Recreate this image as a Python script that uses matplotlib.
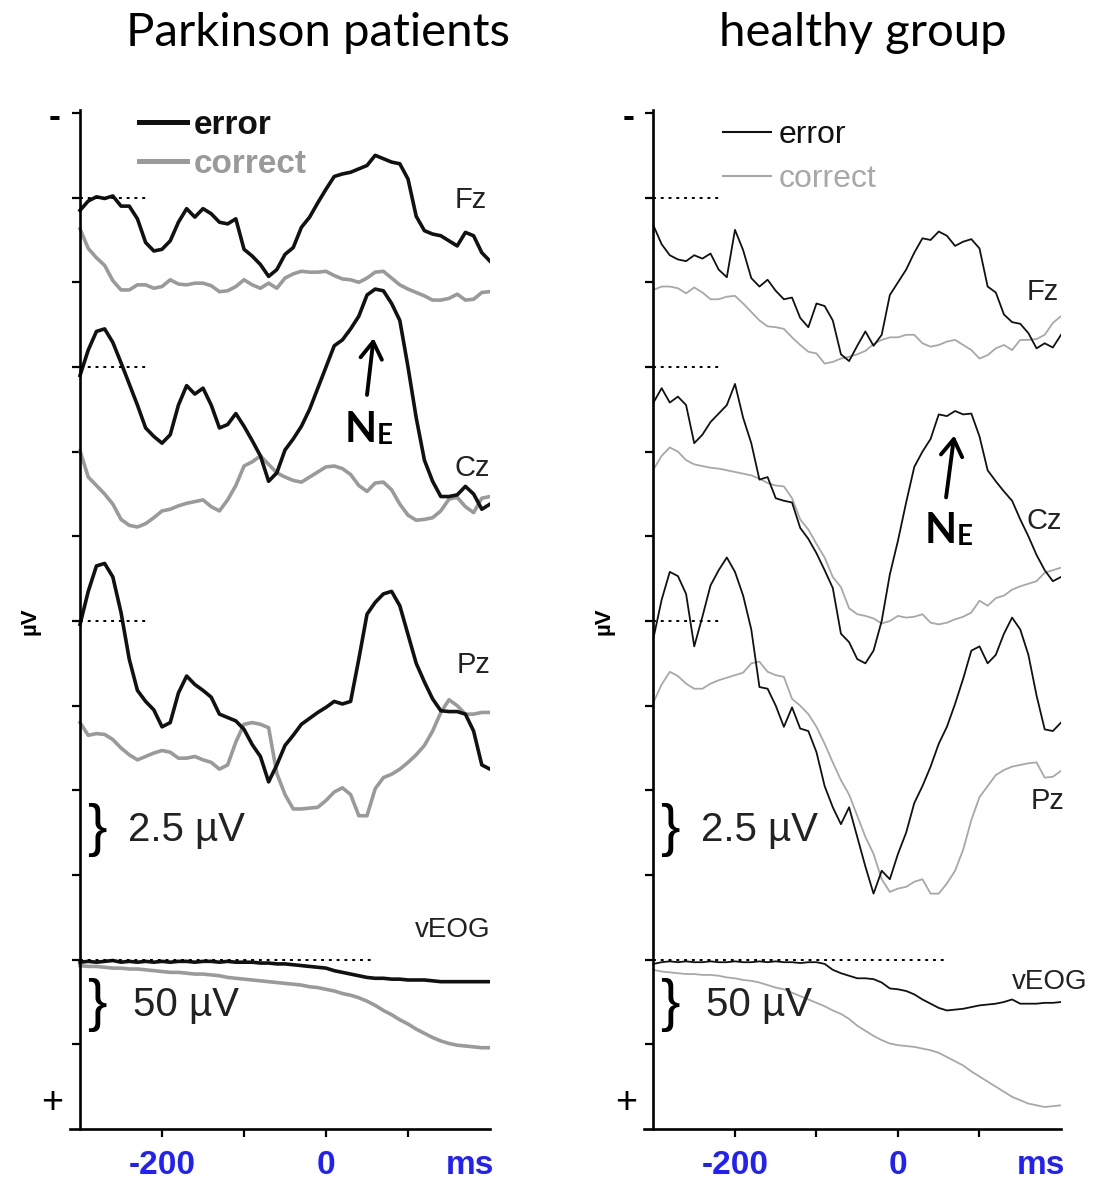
import numpy as np
import matplotlib
matplotlib.use("Agg")
import matplotlib.pyplot as plt
from matplotlib.lines import Line2D
from matplotlib.transforms import blended_transform_factory

# time axis (ms, response-locked)
t = np.arange(-300, 201, 10)

# amplitudes relative to each channel baseline, in scale divisions (negative = up)
pd_fz_err = [0.15, 0.04, -0.01, 0.01, -0.02, 0.10, 0.10, 0.25, 0.53, 0.63,
             0.61, 0.51, 0.29, 0.13, 0.23, 0.13, 0.19, 0.29, 0.31, 0.25,
             0.61, 0.69, 0.79, 0.93, 0.85, 0.67, 0.59, 0.35, 0.23, 0.06,
             -0.10, -0.25, -0.28, -0.30, -0.34, -0.38, -0.50, -0.46, -0.42, -0.40,
             -0.22, 0.22, 0.39, 0.43, 0.45, 0.51, 0.57, 0.41, 0.45, 0.65, 0.75]
pd_fz_cor = [0.37, 0.60, 0.71, 0.80, 0.98, 1.09, 1.09, 1.03, 1.03, 1.07,
             1.05, 0.97, 1.02, 1.03, 1.01, 1.01, 1.04, 1.11, 1.10, 1.05,
             0.97, 1.03, 1.07, 1.01, 1.07, 0.95, 0.90, 0.87, 0.88, 0.88,
             0.87, 0.92, 0.96, 0.97, 1.00, 0.95, 0.88, 0.87, 0.95, 1.03,
             1.08, 1.12, 1.16, 1.21, 1.21, 1.19, 1.14, 1.21, 1.20, 1.12, 1.11]
pd_cz_err = [0.10, -0.20, -0.42, -0.45, -0.29, -0.05, 0.20, 0.45, 0.72, 0.82,
             0.90, 0.80, 0.45, 0.22, 0.32, 0.25, 0.45, 0.72, 0.68, 0.55,
             0.70, 0.87, 1.05, 1.35, 1.25, 0.98, 0.85, 0.70, 0.50, 0.25,
             0.00, -0.25, -0.32, -0.45, -0.60, -0.85, -0.92, -0.90, -0.75, -0.55,
             0.00, 0.60, 1.10, 1.35, 1.53, 1.53, 1.51, 1.41, 1.50, 1.68, 1.62]
pd_cz_cor = [0.99, 1.30, 1.40, 1.50, 1.62, 1.80, 1.87, 1.89, 1.85, 1.78,
             1.70, 1.68, 1.64, 1.61, 1.59, 1.57, 1.65, 1.70, 1.57, 1.40,
             1.17, 1.12, 1.05, 1.15, 1.25, 1.30, 1.34, 1.36, 1.30, 1.24,
             1.18, 1.17, 1.20, 1.27, 1.40, 1.47, 1.37, 1.36, 1.45, 1.62,
             1.75, 1.81, 1.80, 1.78, 1.70, 1.56, 1.54, 1.65, 1.72, 1.55, 1.53]
pd_pz_err = [0.04, -0.35, -0.65, -0.68, -0.52, -0.10, 0.45, 0.82, 0.95, 1.05,
             1.25, 1.20, 0.85, 0.65, 0.75, 0.82, 0.90, 1.10, 1.14, 1.18,
             1.28, 1.46, 1.60, 1.90, 1.70, 1.47, 1.35, 1.22, 1.15, 1.08,
             1.02, 0.95, 0.98, 0.95, 0.45, -0.08, -0.22, -0.32, -0.35, -0.18,
             0.16, 0.50, 0.72, 0.92, 1.06, 1.07, 1.07, 1.10, 1.30, 1.70, 1.75]
pd_pz_cor = [1.20, 1.35, 1.33, 1.34, 1.40, 1.50, 1.58, 1.64, 1.60, 1.56,
             1.53, 1.55, 1.62, 1.62, 1.60, 1.64, 1.67, 1.75, 1.70, 1.43,
             1.22, 1.20, 1.22, 1.26, 1.80, 2.05, 2.22, 2.22, 2.21, 2.20,
             2.12, 2.02, 1.97, 2.05, 2.30, 2.30, 1.98, 1.85, 1.81, 1.75,
             1.67, 1.58, 1.47, 1.30, 1.08, 0.93, 1.00, 1.10, 1.10, 1.08, 1.08]
pd_veog_err = [0.03, 0.02, 0.03, 0.02, 0.01, 0.03, 0.02, 0.03, 0.02, 0.03,
               0.02, 0.03, 0.02, 0.02, 0.03, 0.02, 0.02, 0.03, 0.02, 0.03,
               0.03, 0.03, 0.04, 0.04, 0.05, 0.05, 0.06, 0.07, 0.08, 0.09,
               0.10, 0.13, 0.15, 0.17, 0.19, 0.21, 0.22, 0.22, 0.23, 0.23,
               0.24, 0.24, 0.24, 0.25, 0.26, 0.26, 0.26, 0.26, 0.26, 0.26, 0.26]
pd_veog_cor = [0.07, 0.08, 0.08, 0.09, 0.10, 0.10, 0.11, 0.11, 0.12, 0.13,
               0.14, 0.15, 0.15, 0.16, 0.17, 0.17, 0.18, 0.19, 0.21, 0.22,
               0.23, 0.24, 0.25, 0.26, 0.27, 0.28, 0.29, 0.30, 0.32, 0.33,
               0.35, 0.37, 0.40, 0.42, 0.45, 0.49, 0.54, 0.60, 0.65, 0.71,
               0.76, 0.82, 0.87, 0.92, 0.96, 0.99, 1.01, 1.02, 1.03, 1.04, 1.04]

hc_fz_err = [0.33, 0.55, 0.68, 0.73, 0.75, 0.68, 0.72, 0.66, 0.85, 0.94,
             0.38, 0.62, 0.95, 1.05, 0.97, 1.10, 1.20, 1.18, 1.42, 1.53,
             1.25, 1.28, 1.45, 1.85, 1.93, 1.75, 1.58, 1.75, 1.62, 1.15,
             1.00, 0.85, 0.65, 0.48, 0.50, 0.40, 0.45, 0.57, 0.52, 0.49,
             0.60, 1.05, 1.12, 1.38, 1.47, 1.49, 1.60, 1.78, 1.72, 1.77, 1.62]
hc_fz_cor = [1.09, 1.05, 1.05, 1.07, 1.13, 1.06, 1.12, 1.20, 1.20, 1.17,
             1.16, 1.25, 1.35, 1.45, 1.52, 1.53, 1.55, 1.65, 1.74, 1.82,
             1.84, 1.96, 1.94, 1.90, 1.88, 1.85, 1.81, 1.73, 1.68, 1.65,
             1.65, 1.62, 1.62, 1.72, 1.76, 1.74, 1.70, 1.68, 1.74, 1.80,
             1.90, 1.86, 1.78, 1.74, 1.80, 1.68, 1.68, 1.67, 1.62, 1.48, 1.40]
hc_cz_err = [0.42, 0.25, 0.42, 0.35, 0.45, 0.90, 0.80, 0.65, 0.55, 0.45,
             0.20, 0.60, 0.90, 1.33, 1.30, 1.55, 1.58, 1.60, 1.90, 2.03,
             2.20, 2.40, 2.61, 3.15, 3.25, 3.45, 3.50, 3.35, 3.00, 2.45,
             2.05, 1.60, 1.18, 1.00, 0.85, 0.56, 0.58, 0.52, 0.56, 0.55,
             0.82, 1.22, 1.35, 1.47, 1.58, 1.80, 2.00, 2.22, 2.40, 2.53, 2.48]
hc_cz_cor = [1.21, 1.05, 0.95, 1.00, 1.10, 1.15, 1.17, 1.19, 1.20, 1.22,
             1.24, 1.26, 1.28, 1.32, 1.37, 1.40, 1.41, 1.55, 1.80, 1.92,
             2.09, 2.25, 2.48, 2.60, 2.85, 2.92, 2.94, 2.97, 3.03, 3.00,
             2.94, 2.96, 2.95, 2.92, 3.02, 3.04, 3.02, 2.98, 2.95, 2.90,
             2.76, 2.82, 2.73, 2.70, 2.63, 2.59, 2.56, 2.53, 2.43, 2.40, 2.37]
hc_pz_err = [0.20, -0.25, -0.58, -0.53, -0.32, 0.30, -0.05, -0.42, -0.60, -0.75,
             -0.58, -0.30, 0.10, 0.78, 0.80, 1.00, 1.25, 1.02, 1.27, 1.30,
             1.55, 1.95, 2.20, 2.40, 2.20, 2.55, 2.90, 3.22, 2.95, 3.05,
             2.75, 2.50, 2.15, 1.95, 1.72, 1.45, 1.25, 0.98, 0.68, 0.35,
             0.30, 0.50, 0.40, 0.15, -0.04, 0.10, 0.40, 0.88, 1.28, 1.30, 1.20]
hc_pz_cor = [0.96, 0.75, 0.60, 0.65, 0.74, 0.80, 0.80, 0.74, 0.70, 0.67,
             0.64, 0.61, 0.50, 0.48, 0.60, 0.64, 0.66, 0.92, 1.00, 1.10,
             1.25, 1.45, 1.67, 1.88, 2.05, 2.30, 2.55, 2.75, 3.05, 3.20,
             3.16, 3.14, 3.08, 3.05, 3.22, 3.22, 3.10, 2.95, 2.70, 2.35,
             2.08, 1.95, 1.82, 1.76, 1.72, 1.70, 1.68, 1.67, 1.85, 1.84, 1.77]
hc_veog_err = [0.05, 0.03, 0.02, 0.03, 0.02, 0.03, 0.03, 0.02, 0.03, 0.03,
               0.02, 0.03, 0.03, 0.02, 0.03, 0.02, 0.03, 0.03, 0.04, 0.03,
               0.03, 0.05, 0.12, 0.16, 0.19, 0.22, 0.22, 0.23, 0.27, 0.34,
               0.35, 0.37, 0.41, 0.47, 0.52, 0.57, 0.60, 0.59, 0.58, 0.56,
               0.54, 0.53, 0.52, 0.50, 0.47, 0.52, 0.52, 0.52, 0.51, 0.51, 0.50]
hc_veog_cor = [0.12, 0.14, 0.15, 0.16, 0.17, 0.17, 0.18, 0.18, 0.19, 0.21,
               0.22, 0.24, 0.25, 0.27, 0.30, 0.33, 0.35, 0.39, 0.43, 0.47,
               0.51, 0.55, 0.60, 0.64, 0.70, 0.78, 0.84, 0.90, 0.95, 0.99,
               1.01, 1.02, 1.03, 1.05, 1.07, 1.10, 1.15, 1.20, 1.25, 1.32,
               1.38, 1.44, 1.50, 1.56, 1.62, 1.66, 1.70, 1.72, 1.74, 1.73, 1.72]

channels = ["Fz", "Cz", "Pz", "vEOG"]
baselines = [1, 3, 6, 10]
pd_traces = [(pd_fz_err, pd_fz_cor), (pd_cz_err, pd_cz_cor),
             (pd_pz_err, pd_pz_cor), (pd_veog_err, pd_veog_cor)]
hc_traces = [(hc_fz_err, hc_fz_cor), (hc_cz_err, hc_cz_cor),
             (hc_pz_err, hc_pz_cor), (hc_veog_err, hc_veog_cor)]

SANS = "Liberation Sans"
BLUE = "#1f1fff"

fig = plt.figure(figsize=(11.03, 11.89), dpi=100)
H = 1189.0
W = 1103.0
ax_b = 1 - 1129 / H
ax_h = (1129 - 109.6) / H
axl = fig.add_axes([70.2 / W, ax_b, 419.8 / W, ax_h])
axr = fig.add_axes([643.7 / W, ax_b, 417.3 / W, ax_h])


def panel(ax, traces, lw, grey, lab_pos, veog_dot_end):
    for (err, cor), base in zip(traces, baselines):
        ax.plot(t, base + np.array(cor), color=grey, lw=lw, solid_joinstyle="round")
        ax.plot(t, base + np.array(err), color="#111111", lw=lw, solid_joinstyle="round")
    # dotted baselines
    for base in baselines[:3]:
        ax.plot([-300, -218], [base, base], ls=(0, (1.5, 2.5)), color="black", lw=1.4)
    ax.plot([-300, veog_dot_end], [10, 10], ls=(0, (1.5, 2.5)), color="black", lw=1.4)
    for name, (x, y) in zip(channels, lab_pos):
        ax.text(x, y, name, fontsize=21 if name != "vEOG" else 20, family=SANS,
                color="#222222", ha="center", va="center")

    ax.set_xlim(-312, 200)
    ax.set_ylim(12, -0.04)
    for s in ["top", "right"]:
        ax.spines[s].set_visible(False)
    ax.spines["left"].set_position(("data", -300))
    ax.spines["left"].set_linewidth(1.9)
    ax.spines["bottom"].set_linewidth(1.9)
    ax.set_yticks(range(0, 12))
    ax.set_yticklabels([])
    ax.set_xticks([-200, -100, 0, 100])
    ax.set_xticklabels(["-200", "", "0", ""])
    ax.tick_params(axis="both", direction="out", length=6, width=1.6)
    ax.tick_params(axis="x", pad=9, labelsize=24, labelcolor=BLUE)
    for lab in ax.get_xticklabels():
        lab.set_fontweight("bold")
        lab.set_family(SANS)
    ax.annotate("ms", xy=(175, 12), xycoords="data", xytext=(0, -15),
                textcoords="offset points", ha="center", va="top",
                fontsize=24, fontweight="bold", color=BLUE, family=SANS)

    yt = blended_transform_factory(ax.transAxes, ax.transData)
    ax.text(-0.036, 0.05, "-", transform=yt, fontsize=26, fontweight="bold",
            family=SANS, ha="center", va="center")
    ax.text(-0.042, 11.69, "+", transform=yt, fontsize=27, family=SANS,
            ha="center", va="center")
    ax.text(-0.095, 6.0, "µV", transform=yt, rotation=90, fontsize=16,
            fontweight="bold", family=SANS, ha="center", va="center")

    # scale bars
    ax.text(-280, 8.47, "}", fontsize=42, family=SANS, ha="center", va="center")
    ax.text(-242, 8.47, "2.5 µV", fontsize=29, family=SANS, ha="left",
            va="center", color="#222222")
    ax.text(-280, 10.53, "}", fontsize=42, family=SANS, ha="center", va="center")
    ax.text(-235, 10.53, "50 µV", fontsize=29, family=SANS, ha="left",
            va="center", color="#222222")


panel(axl, pd_traces, 2.6, "#9a9a9a",
      [(176, 1.03), (178, 4.19), (180, 6.52), (155, 9.65)], 60)
panel(axr, hc_traces, 1.3, "#a8a8a8",
      [(177, 2.11), (180, 4.82), (183, 8.13), (186, 10.26)], 58)

# N_E annotations
for ax, tail, tip, nx, ny in [(axl, (50, 3.33), (58, 2.66), 23, 3.89),
                              (axr, (59, 4.54), (69, 3.81), 33, 5.08)]:
    ax.annotate("", xy=tip, xytext=tail,
                arrowprops=dict(arrowstyle="->,head_length=0.55,head_width=0.35",
                                lw=2.8, color="black", mutation_scale=22,
                                shrinkA=0, shrinkB=0))
    txt = ax.text(nx, ny, "N", fontsize=30, fontweight="bold", family="Lato",
                  ha="left", va="baseline")
    ax.annotate("E", xy=(1, 0), xycoords=txt, xytext=(0, 0),
                textcoords="offset points", fontsize=20, fontweight="bold",
                family="Lato", ha="left", va="bottom")

# legends
axl.legend(handles=[Line2D([], [], color="#111111", lw=3.6),
                    Line2D([], [], color="#9a9a9a", lw=3.6)],
           labels=["error", "correct"], loc="upper left",
           bbox_to_anchor=(0.163, 1.0), frameon=False, handlelength=1.45,
           handletextpad=0.2, labelspacing=0.25, borderpad=0, borderaxespad=0,
           prop={"family": SANS, "size": 24, "weight": "bold"},
           labelcolor=["#111111", "#9a9a9a"])
axr.legend(handles=[Line2D([], [], color="#111111", lw=1.5),
                    Line2D([], [], color="#a8a8a8", lw=1.5)],
           labels=["error", "correct"], loc="upper left",
           bbox_to_anchor=(0.19, 0.99), frameon=False, handlelength=1.5,
           handletextpad=0.25, labelspacing=0.45, borderpad=0, borderaxespad=0,
           prop={"family": SANS, "size": 23},
           labelcolor=["#111111", "#a8a8a8"])

fig.text(318 / W, 1 - 33 / H, "Parkinson patients", fontsize=34, family="Lato",
         ha="center", va="center")
fig.text(863 / W, 1 - 33 / H, "healthy group", fontsize=34, family="Lato",
         ha="center", va="center")

fig.savefig("out.png", dpi=100)
